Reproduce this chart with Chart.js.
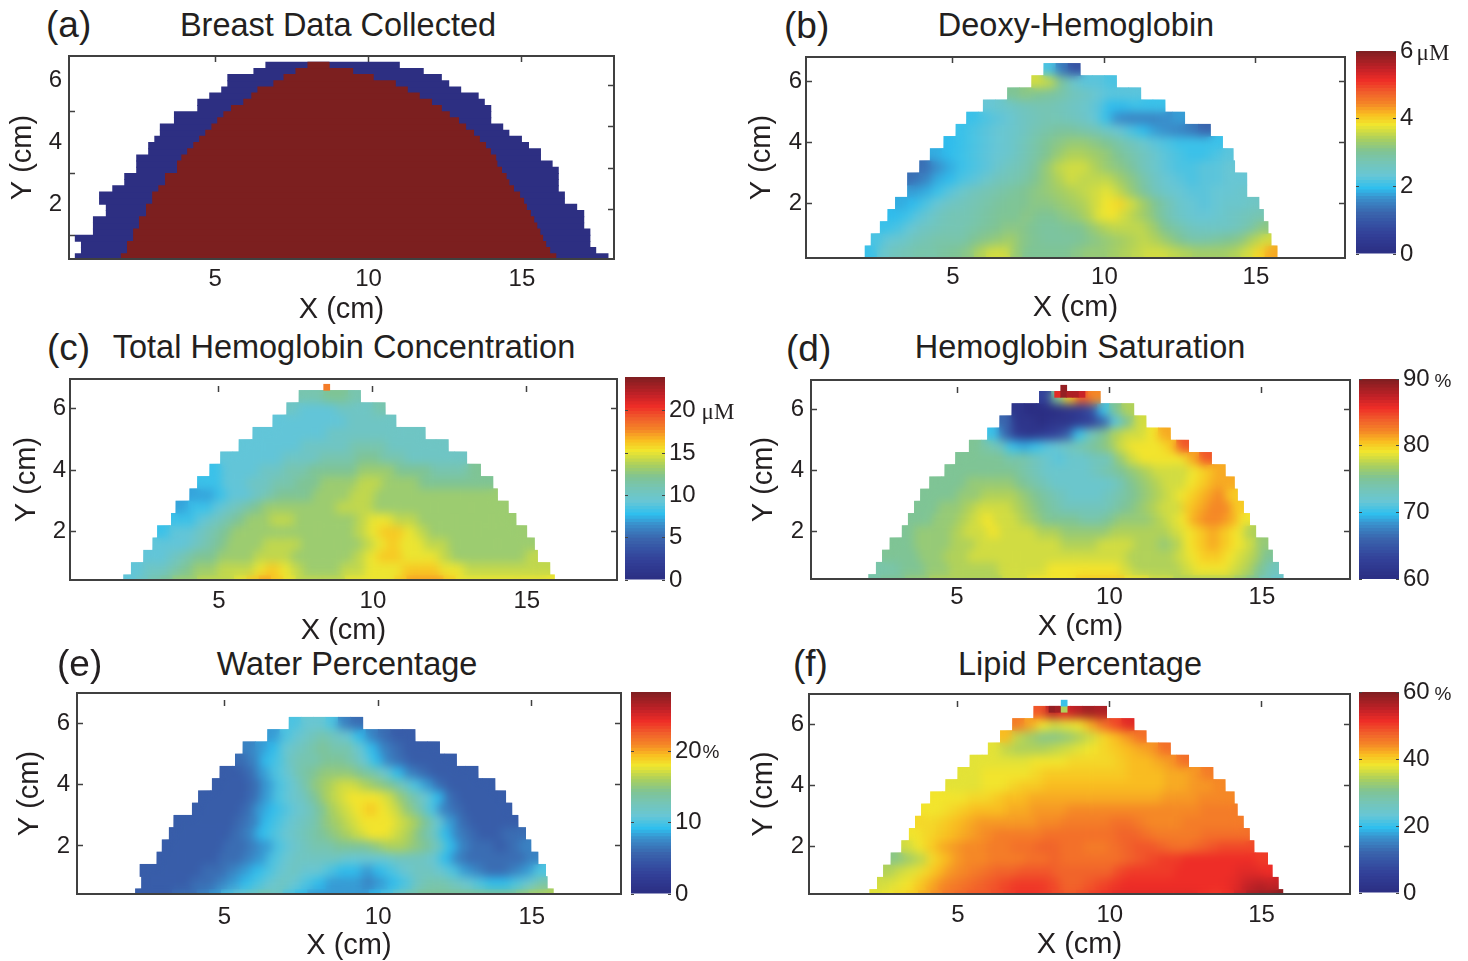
<!DOCTYPE html>
<html>
<head>
<meta charset="utf-8">
<style>
  body { margin: 0; background: #fff; overflow: hidden; font-family: "Liberation Sans", Arial, sans-serif; color: #231f20; }
  canvas { position: absolute; }
  .txt { position: absolute; white-space: nowrap; transform: translate(-50%, -50%); }
  .titulo { font-size: 32.5px; }
  .letra { font-size: 37px; transform: translate(0, -50%); }
  .serif { font-family: "Liberation Serif", serif; font-size: 23px; }
  .pct { font-size: 19px; }
</style>
<script src="https://cdn.jsdelivr.net/npm/chart.js@4"></script>
</head>
<body>
<script>
// row centres (cm) and cell size shared by the maps
const rowY = [0.4, 0.8, 1.2, 1.6, 2.0, 2.4, 2.8, 3.2, 3.6, 4.0, 4.4, 4.8, 5.2, 5.6, 6.0, 6.4];
const cellStep = 0.4;
const xTickValues = [5, 10, 15];
const yTickValues = [2, 4, 6];

// (a) collected region, one span per row
const collectedY = [0.3, 0.5, 0.7, 0.9, 1.1, 1.3, 1.5, 1.7, 1.9, 2.1, 2.3, 2.5, 2.7, 2.9, 3.1, 3.3, 3.5, 3.7, 3.9, 4.1, 4.3, 4.5, 4.7, 4.9, 5.1, 5.3, 5.5, 5.7, 5.9, 6.1, 6.3, 6.5];
const outerLeft = [0.43, 0.63, 0.63, 0.43, 1.02, 1.02, 1.02, 1.44, 1.44, 1.22, 1.22, 1.65, 2.04, 2.04, 2.43, 2.43, 2.43, 2.82, 2.82, 3.02, 3.2, 3.2, 3.66, 3.66, 4.42, 4.42, 4.81, 5.2, 5.4, 5.4, 6.25, 6.64];
const outerRight = [17.82, 17.42, 17.23, 17.23, 17.23, 17.03, 17.03, 17.03, 16.8, 16.4, 16.4, 16.2, 16.2, 16.2, 16.2, 16.0, 15.62, 15.62, 15.23, 15.0, 14.59, 14.39, 14.0, 14.0, 14.0, 13.79, 13.59, 13.02, 12.63, 12.39, 11.8, 11.02];
const innerLeft = [1.93, 2.13, 2.13, 2.33, 2.33, 2.52, 2.52, 2.75, 2.75, 2.95, 2.95, 3.15, 3.37, 3.37, 3.76, 3.76, 3.9, 4.09, 4.29, 4.48, 4.68, 4.88, 5.07, 5.27, 5.52, 5.92, 6.18, 6.38, 6.9, 7.23, 7.62, 8.01];
const innerRight = [16.12, 15.92, 15.79, 15.69, 15.6, 15.5, 15.4, 15.29, 15.16, 15.07, 14.94, 14.74, 14.59, 14.5, 14.35, 14.2, 14.16, 13.99, 13.83, 13.63, 13.44, 13.18, 12.95, 12.65, 12.39, 12.07, 11.67, 11.28, 10.89, 10.17, 9.5, 8.73];

// (b) deoxy-hemoglobin, uM
const deoxyStart = [2.1, 2.3, 2.6, 2.85, 3.1, 3.5, 3.5, 3.9, 4.25, 4.7, 5.1, 5.45, 6.0, 6.8, 7.6, 8.0];
const deoxyRows = [
  [2.0, 2.4, 2.6, 2.7, 2.8, 2.8, 2.9, 3.0, 3.1, 3.4, 3.6, 3.6, 3.2, 3.0, 3.0, 3.0, 3.0, 3.1, 3.2, 3.2, 3.3, 3.4, 3.5, 3.6, 3.6, 3.5, 3.4, 3.3, 3.3, 3.3, 3.4, 3.6, 3.9, 4.2],
  [2.1, 2.3, 2.4, 2.6, 2.7, 2.8, 2.8, 2.8, 3.0, 3.1, 3.2, 3.3, 3.1, 3.0, 2.9, 2.9, 2.9, 3.0, 3.1, 3.2, 3.3, 3.4, 3.5, 3.4, 3.2, 3.0, 2.8, 2.8, 2.9, 3.0, 3.1, 3.4, 3.6],
  [2.0, 2.1, 2.3, 2.5, 2.6, 2.7, 2.7, 2.8, 2.9, 3.0, 3.1, 3.1, 3.0, 2.9, 2.9, 3.0, 3.0, 3.2, 3.4, 3.5, 3.5, 3.5, 3.3, 3.0, 2.8, 2.6, 2.5, 2.5, 2.5, 2.6, 2.8, 3.1],
  [1.9, 2.0, 2.2, 2.4, 2.6, 2.7, 2.7, 2.8, 2.9, 3.0, 3.0, 3.1, 3.0, 3.0, 3.1, 3.2, 3.4, 3.7, 3.8, 3.6, 3.4, 3.2, 2.9, 2.6, 2.4, 2.3, 2.3, 2.4, 2.5, 2.6, 2.7],
  [1.8, 1.9, 2.1, 2.3, 2.5, 2.6, 2.7, 2.8, 2.9, 3.0, 3.0, 3.1, 3.1, 3.2, 3.3, 3.4, 3.6, 3.8, 3.9, 3.6, 3.3, 3.0, 2.7, 2.4, 2.3, 2.2, 2.3, 2.4, 2.4, 2.5],
  [1.7, 1.8, 2.0, 2.2, 2.4, 2.6, 2.7, 2.8, 2.9, 3.0, 3.1, 3.2, 3.3, 3.4, 3.5, 3.6, 3.7, 3.5, 3.2, 2.9, 2.6, 2.4, 2.3, 2.2, 2.2, 2.3, 2.3, 2.4],
  [1.3, 1.5, 1.8, 1.9, 2.1, 2.2, 2.4, 2.6, 2.7, 2.8, 3.0, 3.2, 3.4, 3.6, 3.5, 3.5, 3.5, 3.3, 3.1, 2.8, 2.5, 2.3, 2.2, 2.1, 2.2, 2.2, 2.3, 2.3],
  [1.3, 1.6, 1.8, 2.0, 2.1, 2.2, 2.4, 2.6, 2.7, 2.9, 3.2, 3.5, 3.6, 3.6, 3.4, 3.2, 3.1, 2.9, 2.6, 2.4, 2.2, 2.1, 2.1, 2.2, 2.2, 2.3],
  [1.8, 1.9, 2.0, 2.1, 2.2, 2.3, 2.4, 2.6, 2.8, 3.0, 3.2, 3.4, 3.4, 3.3, 3.2, 3.0, 2.8, 2.6, 2.4, 2.2, 2.1, 2.0, 2.0, 2.1, 2.2],
  [1.9, 2.0, 2.1, 2.2, 2.3, 2.4, 2.6, 2.8, 3.0, 3.1, 3.2, 3.2, 3.1, 3.0, 2.8, 2.6, 2.4, 2.2, 2.1, 2.0, 2.0, 2.0, 2.0],
  [2.0, 2.1, 2.2, 2.3, 2.4, 2.5, 2.7, 2.8, 2.9, 2.9, 2.8, 2.7, 2.5, 2.3, 2.1, 1.9, 1.7, 1.6, 1.5, 1.4, 1.2],
  [2.0, 2.1, 2.2, 2.3, 2.5, 2.6, 2.7, 2.7, 2.6, 2.5, 2.3, 2.0, 1.6, 1.5, 1.5, 1.5, 1.6, 1.7],
  [2.3, 2.4, 2.5, 2.6, 2.7, 2.7, 2.6, 2.5, 2.4, 2.2, 1.9, 1.9, 2.0, 2.0, 2.0],
  [3.0, 3.1, 3.0, 2.9, 2.8, 2.6, 2.5, 2.3, 2.2, 2.2, 2.2],
  [3.6, 3.5, 2.9, 2.4, 2.2, 2.2, 2.1],
  [2.1, 1.4, 0.9]
];
const deoxyBarTicks = [0, 2, 4, 6];

// (c) total hemoglobin, uM
const totalStart = [1.9, 2.15, 2.55, 2.85, 3.0, 3.45, 3.6, 4.05, 4.3, 4.7, 5.05, 5.65, 6.1, 6.75, 7.2, 7.6];
const totalRows = [
  [9, 10, 11, 12, 13, 13, 14, 14, 14, 15, 16, 17, 16, 15, 14, 14, 14, 14, 15, 15, 15, 15, 16, 17, 17, 17, 16, 15, 15, 15, 15, 15, 15, 15, 15],
  [9, 10, 10, 11, 12, 13, 13, 14, 14, 14, 15, 16, 15, 14, 13, 13, 13, 14, 14, 15, 15, 15, 16, 16, 16, 15, 15, 14, 14, 14, 14, 14, 14, 14],
  [9, 9, 10, 11, 12, 12, 13, 13, 13, 14, 14, 14, 13, 13, 13, 13, 13, 14, 15, 16, 16, 15, 15, 15, 14, 13, 13, 13, 13, 13, 13, 14],
  [9, 9, 9, 10, 11, 12, 13, 13, 13, 14, 14, 14, 13, 13, 13, 13, 13, 14, 15, 16, 15, 15, 14, 14, 13, 13, 13, 13, 13, 13, 13],
  [8, 9, 9, 10, 11, 12, 13, 13, 13, 13, 13, 13, 13, 13, 13, 13, 14, 15, 16, 16, 15, 14, 13, 13, 13, 13, 13, 13, 13, 13],
  [8, 8, 9, 10, 11, 12, 13, 13, 14, 14, 13, 13, 13, 13, 13, 14, 15, 15, 14, 14, 13, 13, 13, 13, 13, 13, 13, 13],
  [7, 8, 8, 9, 10, 11, 12, 13, 13, 13, 13, 13, 13, 14, 14, 14, 13, 13, 13, 13, 13, 13, 13, 13, 13, 13, 13],
  [7, 7, 8, 9, 9, 10, 11, 12, 12, 12, 13, 13, 13, 14, 14, 13, 13, 13, 13, 13, 13, 13, 13, 13, 13],
  [8, 8, 9, 9, 10, 10, 11, 11, 12, 12, 13, 13, 13, 14, 14, 13, 13, 13, 12, 12, 12, 12, 12, 12],
  [8, 9, 9, 9, 10, 10, 11, 11, 12, 12, 12, 12, 13, 13, 13, 12, 12, 12, 11, 11, 11, 12],
  [9, 9, 9, 9, 9, 10, 10, 10, 11, 11, 11, 12, 12, 11, 11, 10, 10, 10, 10, 10],
  [9, 9, 9, 9, 9, 10, 10, 10, 10, 11, 11, 11, 10, 10, 10, 10, 10],
  [9, 9, 9, 9, 9, 9, 10, 10, 10, 10, 10, 10, 10, 10],
  [9, 9, 9, 9, 9, 9, 10, 10, 10, 10],
  [10, 9, 9, 9, 10, 10, 10, 11],
  [11, 11, 12, 12, 11]
];
const totalBarTicks = [0, 5, 10, 15, 20];
const totalTip = [[8.5, 6.7, 18]];

// (d) hemoglobin saturation, %
const satStart = [2.1, 2.35, 2.55, 2.8, 3.2, 3.4, 3.6, 3.8, 4.1, 4.6, 4.95, 5.4, 6.0, 6.4, 6.8, 7.7];
const satRows = [
  [74, 75, 75, 76, 76, 77, 77, 77, 77, 77, 77, 78, 78, 79, 79, 79, 79, 80, 80, 80, 80, 79, 79, 78, 78, 77, 77, 77, 77, 77, 76, 75, 73, 72],
  [74, 74, 75, 75, 76, 76, 77, 77, 77, 77, 78, 78, 78, 78, 79, 79, 79, 79, 79, 79, 78, 77, 77, 77, 77, 78, 79, 79, 79, 78, 77, 75, 73],
  [75, 75, 75, 76, 76, 77, 77, 78, 78, 78, 78, 78, 78, 78, 78, 78, 78, 78, 78, 78, 77, 77, 77, 77, 78, 79, 80, 80, 79, 78, 77, 75],
  [75, 75, 76, 76, 76, 77, 77, 78, 78, 78, 78, 78, 78, 78, 77, 77, 77, 78, 78, 78, 77, 77, 76, 77, 79, 80, 81, 80, 79, 78, 76],
  [75, 76, 76, 76, 77, 78, 78, 79, 78, 78, 78, 77, 77, 76, 76, 76, 76, 77, 77, 77, 77, 77, 78, 79, 80, 81, 80, 79, 77],
  [75, 75, 76, 76, 77, 78, 79, 78, 78, 77, 76, 75, 75, 75, 74, 74, 75, 76, 76, 76, 77, 78, 79, 81, 82, 82, 81, 79],
  [75, 75, 76, 76, 77, 78, 78, 78, 77, 76, 75, 74, 73, 73, 73, 73, 74, 75, 76, 77, 78, 78, 80, 81, 82, 82, 80],
  [75, 75, 75, 76, 76, 77, 77, 77, 76, 75, 74, 73, 72, 72, 72, 73, 74, 75, 76, 77, 78, 79, 80, 81, 82, 80],
  [75, 75, 75, 76, 76, 76, 76, 75, 74, 73, 72, 72, 72, 72, 72, 73, 75, 76, 77, 78, 78, 79, 80, 81, 81],
  [75, 75, 75, 75, 75, 75, 74, 73, 72, 72, 72, 72, 73, 74, 75, 76, 77, 78, 78, 78, 79, 80, 81],
  [75, 75, 75, 75, 74, 74, 73, 72, 71, 72, 72, 73, 73, 76, 78, 79, 79, 79, 79, 81, 84],
  [75, 74, 73, 70, 69, 70, 71, 72, 73, 74, 75, 76, 78, 79, 79, 79, 80, 84],
  [70, 66, 62, 61, 62, 63, 65, 70, 73, 75, 77, 78, 78, 79, 81],
  [66, 61, 61, 60, 61, 61, 62, 63, 66, 71, 75, 78],
  [61, 60, 60, 60, 61, 62, 64, 70, 75, 77],
  [63, 75, 80, 84, 82]
];
const satBarTicks = [60, 70, 80, 90];
const satTip = [[8.3, 6.5, 86], [8.5, 6.5, 89], [8.7, 6.5, 88], [8.9, 6.5, 88], [9.1, 6.5, 87], [8.5, 6.7, 89]];

// (e) water, %
const waterStart = [2.1, 2.3, 2.25, 2.8, 2.97, 3.2, 3.35, 3.95, 4.15, 4.6, 4.85, 5.35, 5.6, 6.4, 7.1];
const waterRows = [
  [5, 5, 5, 6, 6, 7, 8, 10, 11, 12, 13, 12, 10, 9, 8, 8, 8, 8, 8, 9, 10, 12, 13, 14, 14, 14, 14, 14, 14, 14, 14, 15, 16, 16],
  [5, 5, 5, 5, 6, 6, 7, 8, 9, 10, 11, 12, 11, 10, 9, 8, 8, 8, 7, 8, 9, 10, 12, 13, 13, 12, 11, 10, 9, 9, 10, 11, 13],
  [5, 5, 5, 5, 5, 6, 6, 7, 8, 9, 10, 11, 12, 11, 11, 10, 9, 9, 8, 9, 10, 11, 12, 12, 11, 10, 8, 7, 6, 6, 7, 8, 10],
  [5, 5, 5, 5, 5, 6, 6, 7, 8, 10, 11, 12, 12, 12, 12, 11, 11, 11, 11, 12, 12, 12, 11, 9, 7, 6, 6, 6, 6, 6, 7],
  [5, 5, 5, 5, 5, 6, 6, 7, 8, 10, 11, 12, 13, 13, 14, 14, 14, 15, 16, 16, 15, 14, 12, 9, 7, 6, 6, 5, 6, 7],
  [5, 5, 5, 5, 5, 6, 7, 9, 10, 11, 12, 13, 14, 15, 16, 17, 18, 18, 17, 16, 14, 12, 9, 7, 6, 5, 5, 6, 6],
  [5, 5, 5, 5, 5, 6, 7, 9, 10, 11, 12, 13, 15, 16, 17, 18, 18, 18, 17, 16, 14, 11, 8, 6, 5, 5, 5, 5],
  [5, 5, 5, 5, 6, 8, 9, 10, 11, 12, 14, 16, 17, 18, 19, 18, 17, 15, 13, 10, 7, 6, 5, 5, 5, 5],
  [5, 5, 5, 5, 6, 8, 10, 11, 12, 14, 16, 17, 18, 18, 18, 17, 15, 13, 11, 9, 6, 5, 5, 5, 5],
  [5, 5, 5, 6, 8, 10, 11, 13, 15, 16, 17, 17, 16, 15, 14, 12, 10, 8, 6, 5, 5, 5, 5],
  [5, 5, 6, 8, 10, 11, 13, 14, 15, 15, 15, 14, 13, 11, 9, 7, 6, 5, 5, 5, 5],
  [6, 7, 9, 10, 12, 13, 13, 14, 14, 13, 11, 9, 7, 6, 5, 5, 5, 5],
  [7, 8, 9, 11, 12, 13, 14, 13, 13, 11, 9, 7, 6, 5, 5, 5],
  [8, 10, 11, 12, 13, 12, 11, 9, 7, 6, 5, 5],
  [10, 11, 11, 10, 7, 6]
];
const waterBarTicks = [0, 10, 20];

// (f) lipid, %
const lipidStart = [2.1, 2.35, 2.55, 2.8, 3.15, 3.4, 3.6, 3.8, 4.1, 4.6, 5.0, 5.4, 6.0, 6.4, 6.8, 7.5];
const lipidRows = [
  [37, 38, 39, 40, 42, 44, 46, 47, 48, 48, 49, 50, 51, 51, 50, 49, 48, 49, 50, 51, 52, 52, 52, 52, 52, 52, 52, 51, 50, 51, 54, 57, 58, 59],
  [36, 37, 38, 40, 42, 44, 45, 46, 47, 48, 49, 50, 50, 50, 49, 47, 47, 48, 49, 50, 51, 51, 51, 51, 51, 51, 51, 51, 51, 52, 54, 55, 54],
  [34, 36, 37, 39, 41, 43, 44, 45, 46, 47, 47, 48, 48, 48, 47, 47, 47, 47, 47, 49, 50, 50, 50, 50, 51, 51, 51, 51, 51, 52, 52, 51],
  [31, 33, 35, 39, 41, 43, 44, 44, 45, 45, 45, 46, 46, 47, 46, 46, 46, 46, 46, 47, 48, 49, 50, 50, 51, 51, 51, 51, 51, 51, 50],
  [36, 38, 40, 42, 43, 44, 44, 45, 45, 46, 46, 47, 47, 46, 46, 45, 45, 46, 47, 48, 48, 47, 46, 46, 47, 48, 49, 49, 49],
  [38, 39, 40, 41, 42, 43, 44, 45, 45, 45, 45, 46, 46, 46, 46, 46, 46, 47, 47, 46, 45, 45, 45, 45, 46, 46, 46, 46],
  [39, 39, 40, 41, 42, 43, 43, 43, 43, 43, 44, 44, 45, 45, 45, 45, 46, 46, 45, 44, 44, 44, 45, 45, 45, 45, 45],
  [38, 38, 39, 40, 41, 41, 41, 42, 42, 43, 43, 43, 44, 44, 44, 44, 44, 44, 44, 44, 44, 44, 44, 45, 45, 45],
  [38, 38, 38, 39, 39, 40, 41, 41, 42, 42, 42, 42, 42, 42, 42, 42, 42, 42, 42, 43, 43, 43, 44, 44, 44],
  [37, 37, 37, 38, 38, 39, 40, 40, 41, 41, 41, 41, 41, 41, 41, 41, 41, 41, 42, 42, 43, 43, 44],
  [37, 37, 38, 38, 38, 38, 39, 40, 40, 40, 40, 40, 40, 40, 41, 41, 41, 42, 42, 43, 45],
  [37, 37, 37, 37, 37, 38, 38, 38, 39, 39, 39, 39, 40, 41, 41, 42, 43, 46],
  [37, 35, 34, 34, 34, 35, 36, 37, 38, 39, 40, 41, 42, 43, 46],
  [41, 35, 33, 31, 31, 32, 34, 36, 39, 41, 43, 46],
  [45, 42, 38, 36, 37, 38, 42, 46, 49, 52],
  [48, 55, 52, 55, 57, 56]
];
const lipidBarTicks = [0, 20, 40, 60];
const lipidTip = [[8.1, 6.5, 58], [8.3, 6.5, 57], [8.5, 6.5, 34], [8.5, 6.7, 20]];

const inkColor = '#231f20';
const frameColor = '#404040';
const tickFont = { family: '"Liberation Sans", Arial, sans-serif', size: 24 };
const axisFont = { family: '"Liberation Sans", Arial, sans-serif', size: 29, lineHeight: 1 };

const colorStops = [
  [0, 43, 46, 131], [0.1, 51, 66, 154], [0.2, 58, 102, 174], [0.27, 58, 144, 204], [0.32, 47, 191, 238],
  [0.38, 103, 198, 214], [0.45, 118, 197, 180], [0.5, 127, 196, 149], [0.56, 169, 207, 95], [0.6, 209, 220, 66],
  [0.63, 241, 231, 46], [0.68, 249, 192, 33], [0.73, 245, 138, 38], [0.79, 241, 95, 43], [0.85, 238, 45, 39],
  [0.91, 192, 33, 39], [1, 123, 30, 32]
];

function jetColor(t) {
  t = Math.min(1, Math.max(0, t));
  let i = 0;
  while (i < colorStops.length - 2 && t > colorStops[i + 1][0]) i++;
  const a = colorStops[i], b = colorStops[i + 1];
  const f = (t - a[0]) / (b[0] - a[0]);
  return `rgb(${[1, 2, 3].map(k => Math.round(a[k] + (b[k] - a[k]) * f)).join(',')})`;
}

function addText(text, x, y, clase) {
  const el = document.createElement('div');
  el.className = 'txt ' + clase;
  el.textContent = text;
  el.style.left = x + 'px';
  el.style.top = y + 'px';
  document.body.appendChild(el);
}

function addCanvas(left, top, width, height) {
  const canvas = document.createElement('canvas');
  canvas.width = width;
  canvas.height = height;
  canvas.style.left = left + 'px';
  canvas.style.top = top + 'px';
  document.body.appendChild(canvas);
  return canvas;
}

function fixedTicks(values) {
  return scale => { scale.ticks = values.map(v => ({ value: v })); };
}

// fixes the room a scale takes so the plot area lands where we want it
function fixedSize(size) {
  return scale => {
    if (scale.isHorizontal()) scale.height = size; else scale.width = size;
    scale.paddingTop = scale.paddingBottom = scale.paddingLeft = scale.paddingRight = 0;
  };
}

// softens the cell edges inside the breast outline, the source figure is shaded smoothly
const smoothCells = {
  id: 'smoothCells',
  afterDatasetDraw(chart, args) {
    if (args.index !== 1) return;
    const a = chart.chartArea;
    const w = a.right - a.left, h = a.bottom - a.top;
    const copy = document.createElement('canvas');
    copy.width = chart.canvas.width;
    copy.height = chart.canvas.height;
    copy.getContext('2d').drawImage(chart.canvas, a.left, a.top, w, h, a.left, a.top, w, h);
    const ctx = chart.ctx;
    ctx.save();
    ctx.beginPath();
    ctx.rect(a.left, a.top, w, h);
    ctx.clip();
    ctx.beginPath();
    chart.getDatasetMeta(1).data.forEach(el => {
      const half = el.options.radius * Math.SQRT1_2;
      ctx.rect(el.x - half, el.y - half, half * 2, half * 2);
    });
    ctx.clip();
    ctx.filter = 'blur(5px)';
    ctx.drawImage(copy, 0, 0);
    ctx.restore();
  }
};

function mapScales(p, yRoom, xRoom) {
  const grid = { drawOnChartArea: false, tickLength: -6, tickColor: frameColor, tickWidth: 1.5 };
  const border = { color: frameColor, width: 2, z: 2 };
  const topGrid = p.floatTopTicks
    ? Object.assign({}, grid, { tickLength: -13, tickBorderDash: [6, 30] })
    : grid;
  return {
    x: {
      type: 'linear', offset: false, min: p.xMin, max: p.xMax, position: 'bottom',
      grid, border,
      ticks: { font: tickFont, color: inkColor, padding: p.xGap + 5, maxRotation: 0, autoSkip: false, callback: v => v },
      title: { display: true, text: 'X (cm)', font: axisFont, color: inkColor, padding: 0 },
      afterBuildTicks: fixedTicks(xTickValues), afterFit: fixedSize(xRoom)
    },
    y: {
      type: 'linear', offset: false, min: p.yMin, max: p.yMax, position: 'left',
      grid, border,
      ticks: { font: tickFont, color: inkColor, padding: p.yGap + 6, autoSkip: false, callback: v => v },
      title: { display: true, text: 'Y (cm)', font: axisFont, color: inkColor, padding: 0 },
      afterBuildTicks: fixedTicks(yTickValues), afterFit: fixedSize(yRoom)
    },
    x2: {
      axis: 'x', type: 'linear', min: p.xMin, max: p.xMax, position: 'top',
      grid: topGrid, border, ticks: { display: false },
      afterBuildTicks: fixedTicks(xTickValues), afterFit: fixedSize(0)
    },
    y2: {
      axis: 'y', type: 'linear', min: p.yMin, max: p.yMax, position: 'right',
      grid, border, ticks: { display: false },
      afterBuildTicks: fixedTicks(yTickValues), afterFit: fixedSize(0)
    }
  };
}

function addPanel(p, type, datasets, indexAxis, plugins) {
  const left = Math.floor(p.yTitleX - 14.5);
  const top = p.top - 6;
  const height = Math.round(p.xTitleY + 14.5) - top;
  const canvas = addCanvas(left, top, p.right + 6 - left, height);
  new Chart(canvas, {
    type,
    data: { datasets },
    plugins: plugins || [],
    options: {
      indexAxis,
      responsive: false, animation: false, events: [],
      layout: { padding: { top: 6, right: 6, left: 0, bottom: 0 } },
      plugins: { legend: { display: false }, tooltip: { enabled: false } },
      scales: mapScales(p, p.left - left, height - 6 - (p.bottom - p.top))
    }
  });
}

function cellRadius(fraction) {
  return ctx => {
    const { x, y } = ctx.chart.scales;
    const side = Math.max(
      Math.abs(x.getPixelForValue(cellStep) - x.getPixelForValue(0)),
      Math.abs(y.getPixelForValue(cellStep) - y.getPixelForValue(0))
    ) * fraction + 0.6;
    return side / 2 / Math.SQRT1_2;
  };
}

function addMapPanel(p, starts, rows, tip, lo, hi) {
  const cells = [];
  rows.forEach((row, r) => row.forEach((v, i) => {
    cells.push({ x: starts[r] + cellStep * (i + 0.5), y: rowY[r], v });
  }));
  const tipCells = (tip || []).map(t => ({ x: t[0], y: t[1], v: t[2] }));
  const colors = list => list.map(c => jetColor((c.v - lo) / (hi - lo)));
  addPanel(p, 'scatter', [
    { data: tipCells, pointStyle: 'rect', pointBorderWidth: 0, pointRadius: cellRadius(0.5), pointBackgroundColor: colors(tipCells), clip: 0 },
    { data: cells, pointStyle: 'rect', pointBorderWidth: 0, pointRadius: cellRadius(1), pointBackgroundColor: colors(cells), clip: 0 }
  ], 'x', [smoothCells]);
}

function addColorbar(b, lo, hi, barTicks) {
  const levels = 64;
  const datasets = [];
  for (let i = 0; i < levels; i++) {
    const a = lo + (hi - lo) * i / levels, c = lo + (hi - lo) * (i + 1) / levels;
    datasets.push({ data: [[a, c + (hi - lo) * 0.005]], backgroundColor: jetColor((i + 0.5) / levels), grouped: false, barPercentage: 1.2, categoryPercentage: 1 });
  }
  const grid = { drawOnChartArea: false, tickLength: -3, tickColor: '#444', z: 3 };
  const border = { display: false };
  const canvas = addCanvas(b.left - 4, b.top - 14, b.right - b.left + 64, b.bottom - b.top + 32);
  new Chart(canvas, {
    type: 'bar',
    data: { labels: [''], datasets },
    options: {
      responsive: false, animation: false, events: [],
      layout: { padding: { top: 14, left: 4, bottom: 18, right: 0 } },
      plugins: { legend: { display: false }, tooltip: { enabled: false } },
      scales: {
        x: { display: false },
        y: {
          type: 'linear', min: lo, max: hi, position: 'right', grid, border,
          ticks: { font: tickFont, color: inkColor, padding: 7, autoSkip: false, callback: v => v },
          afterBuildTicks: fixedTicks(barTicks), afterFit: fixedSize(60)
        },
        y2: {
          axis: 'y', type: 'linear', min: lo, max: hi, position: 'left', grid, border,
          ticks: { display: false },
          afterBuildTicks: fixedTicks(barTicks), afterFit: fixedSize(0)
        }
      }
    }
  });
}

document.addEventListener('DOMContentLoaded', function () {
  // (a)
  const spans = (ls, rs) => collectedY.map((y, i) => ({ x: [ls[i], rs[i]], y }));
  const barStyle = { grouped: false, barPercentage: 1.15, categoryPercentage: 1 };
  addPanel(
    { left: 69, right: 614, top: 56, bottom: 259, xMin: 0.24, xMax: 18.0, yMin: 0.23, yMax: 6.8, xGap: 7, yGap: 7, yTitleX: 23, xTitleY: 309 },
    'bar',
    [
      Object.assign({ data: spans(innerLeft, innerRight), backgroundColor: '#7c1f1f' }, barStyle),
      Object.assign({ data: spans(outerLeft, outerRight), backgroundColor: '#2d2f82' }, barStyle)
    ],
    'y'
  );

  // (b)
  addMapPanel({ left: 806, right: 1345, top: 57, bottom: 258, xMin: 0.15, xMax: 17.94, yMin: 0.2, yMax: 6.81, xGap: 6, yGap: 4, yTitleX: 762, xTitleY: 307 }, deoxyStart, deoxyRows, null, 0, 6);
  addColorbar({ left: 1356, right: 1396, top: 51, bottom: 254 }, 0, 6, deoxyBarTicks);

  // (c)
  addMapPanel({ left: 70, right: 617, top: 379, bottom: 580, xMin: 0.16, xMax: 17.93, yMin: 0.43, yMax: 6.97, xGap: 8, yGap: 4, yTitleX: 27, xTitleY: 630, floatTopTicks: true }, totalStart, totalRows, totalTip, 0, 24);
  addColorbar({ left: 625, right: 665, top: 377, bottom: 580 }, 0, 24, totalBarTicks);

  // (d)
  addMapPanel({ left: 811, right: 1350, top: 380, bottom: 579, xMin: 0.21, xMax: 17.89, yMin: 0.45, yMax: 6.97, xGap: 5, yGap: 7, yTitleX: 764, xTitleY: 626, floatTopTicks: true }, satStart, satRows, satTip, 60, 90);
  addColorbar({ left: 1359, right: 1399, top: 379, bottom: 579 }, 60, 90, satBarTicks);

  // (e)
  addMapPanel({ left: 77, right: 621, top: 693, bottom: 894, xMin: 0.2, xMax: 17.9, yMin: 0.43, yMax: 6.99, xGap: 10, yGap: 7, yTitleX: 30, xTitleY: 945, floatTopTicks: true }, waterStart, waterRows, null, 0, 28.4);
  addColorbar({ left: 631, right: 671, top: 692, bottom: 894 }, 0, 28.4, waterBarTicks);

  // (f)
  addMapPanel({ left: 809, right: 1350, top: 694, bottom: 894, xMin: 0.1, xMax: 17.91, yMin: 0.45, yMax: 7.0, xGap: 8, yGap: 5, yTitleX: 764, xTitleY: 944, floatTopTicks: true }, lipidStart, lipidRows, lipidTip, 0, 60);
  addColorbar({ left: 1359, right: 1399, top: 692, bottom: 893 }, 0, 60, lipidBarTicks);

  // titles, panel letters and units
  addText('Breast Data Collected', 338, 25, 'titulo');
  addText('Deoxy-Hemoglobin', 1076, 25, 'titulo');
  addText('Total Hemoglobin Concentration', 344, 347, 'titulo');
  addText('Hemoglobin Saturation', 1080, 347, 'titulo');
  addText('Water Percentage', 347, 664, 'titulo');
  addText('Lipid Percentage', 1080, 664, 'titulo');
  addText('(a)', 46, 25, 'letra');
  addText('(b)', 784, 26, 'letra');
  addText('(c)', 47, 348, 'letra');
  addText('(d)', 786, 349, 'letra');
  addText('(e)', 57, 664, 'letra');
  addText('(f)', 793, 664, 'letra');
  addText('μM', 1433, 53, 'serif');
  addText('μM', 718, 412, 'serif');
  addText('%', 1443, 381, 'pct');
  addText('%', 711, 752, 'pct');
  addText('%', 1443, 694, 'pct');
});
</script>
</body>
</html>
